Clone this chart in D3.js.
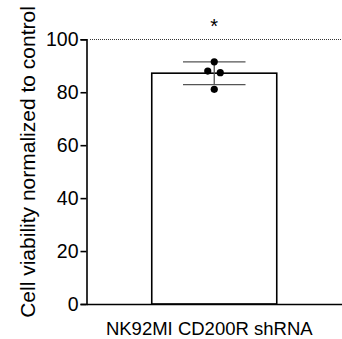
<!DOCTYPE html>
<html>
<head>
<meta charset="utf-8">
<script src="https://cdn.jsdelivr.net/npm/d3@7"></script>
<style>
  body { margin: 0; background: #fff; }
  svg { display: block; font-family: "Liberation Sans", Arial, sans-serif; }
</style>
</head>
<body>
<div id="chart"></div>
<script>
const groups = ['NK92MI CD200R shRNA'];
const points = [91.5, 88.0, 87.4, 81.1];
const pointOffsets = [0, -6.5, 6, 0];
const barMean = [87.2];
const barSd = [4.3];
const yTicks = [0, 20, 40, 60, 80, 100];
const refLine = 100;
const yTitle = 'Cell viability normalized to control';

const width = 342, height = 339;
const margin = { top: 39.3, right: 0, bottom: 35, left: 86.5 };

const svg = d3.select('#chart').append('svg')
  .attr('width', width)
  .attr('height', height);

const y = d3.scaleLinear()
  .domain([0, 100])
  .range([height - margin.bottom, margin.top]);

const x = d3.scaleBand()
  .domain(groups)
  .range([margin.left, width - margin.right])
  .paddingInner(0)
  .paddingOuter(0.522);

// dotted reference line at 100 (snapped to pixel so the dots stay visible)
const refY = Math.floor(y(refLine)) + 0.5;
svg.append('line')
  .attr('x1', Math.ceil(margin.left) + 3)
  .attr('x2', width)
  .attr('y1', refY)
  .attr('y2', refY)
  .attr('stroke', '#333')
  .attr('stroke-width', 1)
  .attr('stroke-dasharray', '1,1')
  .attr('shape-rendering', 'crispEdges');

// bar
svg.selectAll('.bar')
  .data(groups)
  .join('rect')
  .attr('class', 'bar')
  .attr('x', d => x(d))
  .attr('width', x.bandwidth())
  .attr('y', (d, i) => y(barMean[i]))
  .attr('height', (d, i) => y(0) - y(barMean[i]))
  .attr('fill', '#fff')
  .attr('stroke', '#000')
  .attr('stroke-width', 1.6);

// error bars (mean +/- sd)
const cx = x(groups[0]) + x.bandwidth() / 2;
const capW = x.bandwidth() / 2;
const lo = barMean[0] - barSd[0], hi = barMean[0] + barSd[0];
const eb = svg.append('g').attr('stroke', '#555').attr('stroke-width', 1.3);
eb.append('line').attr('x1', cx).attr('x2', cx).attr('y1', y(lo)).attr('y2', y(hi));
eb.append('line').attr('x1', cx - capW / 2).attr('x2', cx + capW / 2).attr('y1', y(lo)).attr('y2', y(lo));
eb.append('line').attr('x1', cx - capW / 2).attr('x2', cx + capW / 2).attr('y1', y(hi)).attr('y2', y(hi));

// individual points
svg.selectAll('.pt')
  .data(points)
  .join('circle')
  .attr('class', 'pt')
  .attr('cx', (d, i) => cx + pointOffsets[i])
  .attr('cy', d => y(d))
  .attr('r', 3.6)
  .attr('fill', '#000');

// significance star
svg.append('text')
  .attr('x', cx)
  .attr('y', 33)
  .attr('text-anchor', 'middle')
  .attr('font-size', 20)
  .text('*');

// axes
const yAxis = svg.append('g')
  .attr('transform', `translate(${margin.left},0)`)
  .call(d3.axisLeft(y).tickValues(yTicks).tickSize(6).tickPadding(2));
yAxis.select('.domain').attr('stroke-width', 1.6);
yAxis.selectAll('.tick line').attr('stroke-width', 1.6);
yAxis.selectAll('.tick text').attr('font-size', 19.5).attr('fill', '#000');

const xAxis = svg.append('g')
  .attr('transform', `translate(0,${y(0)})`)
  .call(d3.axisBottom(x).tickSize(0).tickPadding(18).tickSizeOuter(0));
xAxis.select('.domain').attr('stroke-width', 1.6);
xAxis.selectAll('.tick text').attr('font-size', 18.5).attr('fill', '#000').attr('dx', -5);

svg.append('text')
  .attr('transform', `translate(35,162) rotate(-90)`)
  .attr('text-anchor', 'middle')
  .attr('font-size', 21)
  .text(yTitle);
</script>
</body>
</html>
